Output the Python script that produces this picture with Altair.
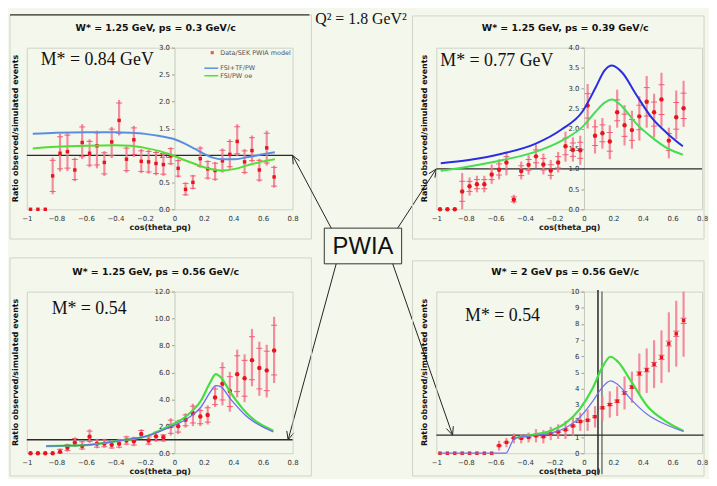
import math
import altair as alt
import pandas as pd

# ---------------- layout / style constants ----------------
W, H = 268, 163            # plot area of every panel
HS, VS = 145, 83           # spacing between plot areas (flush bounds)
BG = "#f4f7ec"
FRAME = "#cfd3c6"
SANS = "DejaVu Sans"
SERIF = "Liberation Serif"
RED = "#e8141e"
PINK = "#f27a90"

# ---------------- data ----------------
cos_bins = [-0.975, -0.925, -0.875, -0.825, -0.775, -0.725, -0.675, -0.625, -0.575,
            -0.525, -0.475, -0.425, -0.375, -0.325, -0.275, -0.225, -0.175, -0.125,
            -0.075, -0.025, 0.025, 0.075, 0.125, 0.175, 0.225, 0.275, 0.325, 0.375,
            0.425, 0.475, 0.525, 0.575, 0.625, 0.675]
x_ticks = [-1, -0.8, -0.6, -0.4, -0.2, 0, 0.2, 0.4, 0.6, 0.8]

# Panel A: W* = 1.25 GeV, ps = 0.3 GeV/c
a_ratio = [0, 0, 0, 0.62, 1.04, 1.07, 0.73, 1.24, 1.04, 1.18, 0.87, 1.25, 1.65, 0.93, 1.29,
           0.89, 0.88, 0.85, 0.83, 0.99, 0.76, 0.37, 0.50, 0.94, 0.75, 0.72, 0.90, 1.02,
           1.26, 0.88, 1.09, 0.73, 1.14, 0.60]
a_hi = [0, 0, 0, 0.96, 1.40, 1.43, 0.96, 1.58, 1.30, 1.46, 1.08, 1.53, 2.03, 1.17, 1.55,
        1.12, 1.11, 1.09, 1.06, 1.15, 0.93, 0.50, 0.64, 1.17, 0.91, 0.88, 1.13, 1.30,
        1.58, 1.12, 1.37, 0.94, 1.46, 0.81]
a_lo = [0, 0, 0, 0.28, 0.70, 0.71, 0.52, 0.93, 0.78, 0.76, 0.62, 0.95, 1.37, 0.68, 0.97,
        0.67, 0.66, 0.63, 0.62, 0.82, 0.59, 0.25, 0.37, 0.77, 0.55, 0.53, 0.68, 0.75,
        0.99, 0.65, 0.87, 0.51, 0.81, 0.40]
a_curve_x = [-0.96, -0.8, -0.6, -0.4, -0.3, -0.2, -0.1, 0.0, 0.07, 0.14, 0.2, 0.26, 0.32,
             0.41, 0.5, 0.6, 0.68]
a_blue = [1.40, 1.42, 1.43, 1.43, 1.42, 1.40, 1.36, 1.30, 1.22, 1.12, 1.03, 0.96, 0.93,
          0.93, 0.97, 1.02, 1.06]
a_green = [1.13, 1.16, 1.18, 1.19, 1.18, 1.14, 1.08, 0.99, 0.91, 0.84, 0.78, 0.74, 0.72,
           0.75, 0.82, 0.89, 0.93]

# Panel B: W* = 1.25 GeV, ps = 0.39 GeV/c
b_ratio = [0, 0, 0, 0.44, 0.57, 0.62, 0.62, 0.86, 0.98, 1.16, 0.24, 0.95, 1.10, 1.31, 1.11,
           0.96, 1.16, 1.56, 1.47, 1.46, 2.57, 1.82, 1.88, 1.68, 2.40, 2.08, 1.96, 2.30,
           2.66, 2.40, 2.72, 1.70, 2.28, 2.50]
b_hi = [0, 0, 0, 0.90, 0.79, 0.83, 0.83, 1.11, 1.24, 1.42, 0.36, 1.18, 1.34, 1.60, 1.38,
        1.22, 1.42, 1.92, 1.78, 1.82, 3.10, 2.22, 2.26, 2.08, 2.96, 2.58, 2.44, 2.80,
        3.30, 2.86, 3.38, 2.02, 2.94, 3.18]
b_lo = [0, 0, 0, 0.0, 0.34, 0.42, 0.42, 0.63, 0.74, 0.84, 0.14, 0.74, 0.86, 1.02, 0.86,
        0.74, 0.91, 1.18, 1.18, 1.10, 2.00, 1.38, 1.50, 1.24, 2.02, 1.58, 1.50, 1.70,
        2.02, 1.78, 2.04, 1.26, 1.74, 2.04]
b_curve_x = [-0.97, -0.78, -0.55, -0.33, -0.15, -0.01, 0.08, 0.14, 0.19, 0.26, 0.35, 0.46,
             0.57, 0.67]
b_blue = [1.14, 1.22, 1.38, 1.62, 1.98, 2.42, 3.02, 3.44, 3.56, 3.38, 2.86, 2.26, 1.86, 1.56]
b_green = [0.95, 1.06, 1.22, 1.42, 1.70, 2.04, 2.42, 2.64, 2.72, 2.54, 2.14, 1.78, 1.50, 1.35]

# Panel C: W* = 1.25 GeV, ps = 0.56 GeV/c
c_ratio = [0, 0, 0, 0, 0.10, 0.40, 0.78, 0.54, 1.23, 0.71, 0.71, 0.62, 0.71, 0.95, 0.88,
           1.42, 0.95, 1.25, 1.18, 2.01, 2.01, 2.49, 2.96, 2.72, 2.84, 4.14, 5.16, 4.62,
           5.87, 5.56, 6.91, 6.32, 6.15, 7.62]
c_hi = [0, 0, 0, 0, 0.35, 0.71, 1.18, 0.95, 1.78, 1.07, 1.07, 0.95, 1.07, 1.30, 1.23,
        1.78, 1.30, 1.66, 1.42, 2.60, 2.49, 2.96, 3.67, 3.31, 3.55, 4.97, 6.75, 6.04,
        7.69, 7.34, 9.23, 8.28, 8.05, 10.13]
c_lo = [0, 0, 0, 0, 0.0, 0.12, 0.47, 0.24, 0.76, 0.36, 0.40, 0.31, 0.36, 0.59, 0.52,
        1.07, 0.59, 0.83, 0.83, 1.30, 1.42, 1.89, 2.01, 2.01, 2.13, 3.43, 3.55, 3.08,
        4.14, 3.79, 4.97, 4.26, 4.14, 5.21]
c_curve_x = [-0.87, -0.58, -0.36, -0.18, -0.05, 0.09, 0.18, 0.24, 0.28, 0.31, 0.38, 0.49, 0.67]
c_blue = [0.52, 0.62, 0.95, 1.30, 1.85, 2.60, 3.43, 4.50, 5.02, 4.97, 4.02, 2.72, 1.59]
c_green = [0.52, 0.62, 0.95, 1.30, 1.94, 2.84, 3.91, 5.21, 5.87, 5.68, 4.50, 2.96, 1.66]

# Panel D: W* = 2 GeV ps = 0.56 GeV/c
d_ratio = [0, 0, 0, 0, 0, 0, 0, 0, 0.47, 0.67, 0.94, 0.92, 0.98, 1.08, 1.02, 1.22, 1.32,
           1.45, 1.69, 1.96, 2.04, 2.26, 2.81, 3.01, 3.22, 3.73, 4.09, 4.93, 5.15, 5.50,
           5.93, 6.78, 7.39, 8.21]
d_hi = [0, 0, 0, 0, 0, 0, 0, 0, 0.77, 0.94, 1.22, 1.18, 1.28, 1.49, 1.43, 1.63, 1.79,
        2.00, 2.30, 2.51, 2.71, 2.91, 3.52, 3.83, 4.13, 4.75, 5.05, 6.17, 6.48, 6.99,
        7.60, 8.72, 9.43, 10.0]
d_lo = [0, 0, 0, 0, 0, 0, 0, 0, 0.16, 0.37, 0.61, 0.61, 0.67, 0.67, 0.61, 0.81, 0.88,
        0.88, 1.08, 1.38, 1.38, 1.59, 2.00, 2.20, 2.30, 2.71, 3.12, 3.63, 3.73, 4.03,
        4.34, 5.01, 5.36, 5.97]
d_blue_x = [-0.98, -0.53, -0.47, -0.35, -0.23, -0.12, -0.03, 0.06, 0.12, 0.18, 0.23, 0.32,
            0.43, 0.55, 0.675]
d_blue = [0, 0, 0.92, 1.08, 1.24, 1.59, 2.20, 3.22, 4.03, 4.48, 4.24, 3.32, 2.40, 1.79, 1.34]
d_green_x = [-0.47, -0.35, -0.23, -0.12, -0.03, 0.06, 0.12, 0.18, 0.23, 0.32, 0.43, 0.55, 0.675]
d_green = [0.94, 1.14, 1.38, 1.89, 2.71, 4.03, 5.25, 5.97, 5.66, 4.44, 2.91, 2.00, 1.38]
d_cut_x = [0.095, 0.122]
d_cut_top = [10.1, 10.0]
d_cut_bottom = [-1.3, -1.3]

ONE = pd.DataFrame({"k": [0]})


def val(v):
    return alt.value(v)


def rect(x1, y1, x2, y2, stroke=FRAME, fill=None, sw=1):
    kw = dict(stroke=stroke, strokeWidth=sw)
    if fill is None:
        kw["fillOpacity"] = 0
        kw["fill"] = BG
    else:
        kw["fill"] = fill
    return alt.Chart(ONE).mark_rect(**kw).encode(x=val(x1), x2=val(x2), y=val(y1), y2=val(y2))


def seg(x1, y1, x2, y2, color="#222", sw=1):
    return alt.Chart(ONE).mark_rule(color=color, strokeWidth=sw).encode(
        x=val(x1), x2=val(x2), y=val(y1), y2=val(y2))


def label(text, x, y, size, font=SANS, weight="normal", align="left", baseline="alphabetic",
          color="#111", angle=0):
    kw = dict(text=text, fontSize=size, font=font, fontWeight=weight, align=align,
              baseline=baseline, color=color)
    if angle:
        kw["angle"] = angle
    return alt.Chart(ONE).mark_text(**kw).encode(x=val(x), y=val(y))


def panel(title, mstar, mpos, ratio, lo, hi, cap_frac, ymax, yvals, yfmt,
          blue_x, blue, green_x, green, blue_color, blue_w, green_color, green_w,
          frame, refline, point_shape, point_size, extra=(), cuts=None):
    xs = alt.Scale(domain=[-1, 0.8], nice=False, zero=False, padding=0)
    ys = alt.Scale(domain=[0, ymax], nice=False, zero=False, padding=0)
    x0 = W * 1 / 1.8
    xaxis = alt.Axis(values=x_ticks, format="~g", labelFont=SANS, labelFontSize=7,
                     labelColor="#333", domain=False, ticks=False, grid=False,
                     labelFlush=False, labelOverlap=False,
                     labelPadding=5, title="cos(theta_pq)", titleFont=SANS,
                     titleFontSize=8, titleFontWeight="bold", titleColor="#222",
                     titlePadding=2)
    yaxis = alt.Axis(values=yvals, format=yfmt, orient="left", offset=-x0, labelFont=SANS,
                     labelFontSize=7, labelColor="#333", domainColor="#c4c8bc",
                     labelFlush=False, labelOverlap=False,
                     tickColor="#9a9e94", tickSize=3, grid=False, title=None,
                     labelPadding=2)
    X = lambda f: alt.X(f, type="quantitative", scale=xs, axis=xaxis)
    Y = lambda f: alt.Y(f, type="quantitative", scale=ys, axis=yaxis)

    pts = pd.DataFrame({"cos": cos_bins, "ratio": ratio, "lo": lo, "hi": hi})
    bars = pts[pts["hi"] > pts["lo"]].copy()
    caps = pd.concat([
        pd.DataFrame({"cos": bars["cos"], "ratio": bars["ratio"] + cap_frac * (bars["hi"] - bars["ratio"])}),
        pd.DataFrame({"cos": bars["cos"], "ratio": bars["ratio"] - cap_frac * (bars["ratio"] - bars["lo"])}),
    ])
    ref = pd.DataFrame({"cos": [refline[0]], "cos2": [refline[1]], "ratio": [refline[2]]})
    bl = pd.DataFrame({"cos": blue_x, "ratio": blue})
    gr = pd.DataFrame({"cos": green_x, "ratio": green})

    layers = [rect(*frame)]
    if cuts is not None:
        cx, ctop, cbot = cuts
        for i, w in enumerate([1.6, 1.0]):
            cdf = pd.DataFrame({"cos": [cx[i]], "ratio": [ctop[i]], "bot": [cbot[i]]})
            layers.append(alt.Chart(cdf).mark_rule(color="#333", strokeWidth=w, clip=False)
                          .encode(x=X("cos"), y=Y("ratio"), y2="bot"))
    layers += [
        alt.Chart(ref).mark_rule(color="#2a2a2a", strokeWidth=1.3, clip=False).encode(
            x=X("cos"), x2="cos2", y=Y("ratio")),
        alt.Chart(bars).mark_rule(color=PINK, strokeWidth=2.2, opacity=0.85).encode(
            x=X("cos"), y=Y("lo"), y2="hi"),
        alt.Chart(caps).mark_tick(orient="horizontal", color="#f0506e", size=6, thickness=1,
                                  opacity=0.9).encode(x=X("cos"), y=Y("ratio")),
        alt.Chart(pts).mark_point(shape=point_shape, filled=True, color=RED, size=point_size,
                                  opacity=1).encode(x=X("cos"), y=Y("ratio")),
        alt.Chart(gr).mark_line(color=green_color, strokeWidth=green_w,
                                interpolate="monotone").encode(x=X("cos"), y=Y("ratio")),
        alt.Chart(bl).mark_line(color=blue_color, strokeWidth=blue_w,
                                interpolate="monotone").encode(x=X("cos"), y=Y("ratio")),
        label(mstar, mpos[0], mpos[1], 18, font=SERIF, color="#111"),
        label(title, W / 2 - 4, -20, 9.5, weight="bold", align="center", baseline="middle"),
        label("Ratio observed/simulated events", -11, H / 2, 8, weight="bold",
              align="center", baseline="middle", angle=270),
    ]
    layers += list(extra)
    return alt.layer(*layers).properties(width=W, height=H)


# ---------- decorations positioned relative to panel A's plot origin ----------
def arrow(tail, tip, color="#222"):
    (x1, y1), (x2, y2) = tail, tip
    ang = math.atan2(y1 - y2, x1 - x2)
    L, spread = 9, math.radians(24)
    parts = [seg(x1, y1, x2, y2, color, 1)]
    for s in (-spread, spread):
        parts.append(seg(x2, y2, x2 + L * math.cos(ang + s), y2 + L * math.sin(ang + s), color, 1))
    return parts


colB, rowC = W + HS, H + VS
tipA = (W * 1.8 / 1.8, H * (1 - 1 / 3))
tipB = (colB, H * (1 - 1 / 4))
tipC = (W * 1.77 / 1.8, rowC + H * (1 - 1 / 12))
tipD = (colB + W * 0.11 / 1.8, rowC + H * (1 - 1.12 / 10))
box = (300, 182, 378, 218)

extraA = [
    seg(-17, -33, 285, -33, "#333", 1.2),
    label("Q\u00b2 = 1.8 GeV\u00b2", 337, -29, 16, font=SERIF, align="center",
          baseline="middle", color="#111"),
    alt.Chart(ONE).mark_point(shape="square", filled=True, color=RED, size=10).encode(
        x=val(187), y=val(5)),
    label("Data/SEK PWIA model", 195, 7, 6.5, color="#555"),
    seg(179, 20.7, 193, 20.7, "#5a8fe0", 1.5),
    label("FSI+TF/PW", 195, 23, 6.5, color="#555"),
    seg(179, 28.3, 193, 28.3, "#55dd33", 1.5),
    label("FSI/PW oe", 195, 30.5, 6.5, color="#555"),
    rect(box[0], box[1], box[2], box[3], stroke="#333", fill=BG),
    label("PWIA", (box[0] + box[2]) / 2, (box[1] + box[3]) / 2 + 1, 24,
          font="Liberation Sans", align="center", baseline="middle", color="#111"),
]
extraA += arrow((307, box[1]), tipA)
extraA += arrow((374, box[1]), tipB)
extraA += arrow((312, box[3]), tipC)
extraA += arrow((369, box[3]), tipD)

pA = panel("W* = 1.25 GeV, ps = 0.3 GeV/c", "M* = 0.84 GeV", (14, 17),
           a_ratio, a_lo, a_hi, 0.85, 3, [0, 0.5, 1, 1.5, 2, 2.5, 3], ".1f",
           a_curve_x, a_blue, a_curve_x, a_green, "#5a8fe0", 2, "#55dd33", 2,
           (-17, -33, 287, 193), (-1, 0.8, 1.0), "square", 12, extraA)
pB = panel("W* = 1.25 GeV, ps = 0.39 GeV/c", "M* = 0.77 GeV", (4, 18),
           b_ratio, b_lo, b_hi, 0.55, 4, [0, 0.5, 1, 1.5, 2, 2.5, 3, 3.5, 4], ".1f",
           b_curve_x, b_blue, b_curve_x, b_green, "#2a2ee0", 2, "#44dd55", 2,
           (-24, -32, 270, 193), (-1, 0.8, 1.0), "circle", 20)
pC = panel("W* = 1.25 GeV, ps = 0.56 GeV/c", "M* = 0.54", (25, 23),
           c_ratio, c_lo, c_hi, 0.75, 12, [0, 2, 4, 6, 8, 10, 12], ".1f",
           c_curve_x, c_blue, c_curve_x, c_green, "#6a6af0", 1.3, "#44dd44", 2.2,
           (-17, -34, 287, 186), (-1, 0.8, 1.0), "circle", 20)
pD = panel("W* = 2 GeV ps = 0.56 GeV/c", "M* = 0.54", (29, 30),
           d_ratio, d_lo, d_hi, 0.08, 10, list(range(0, 11)), "d",
           d_blue_x, d_blue, d_green_x, d_green, "#7070ee", 1.2, "#44dd44", 2.2,
           (-24, -31, 270, 186), (-1, 0.81, 1.12), "square", 12,
           cuts=(d_cut_x, d_cut_top, d_cut_bottom))

chart = alt.concat(pA, pB, pC, pD, columns=2, spacing={"row": VS, "column": HS},
                   bounds="flush").properties(
    padding={"left": 0, "top": 0, "right": 0, "bottom": 0}
).configure(background=BG).configure_view(stroke=FRAME, strokeWidth=1)

chart.save("out.html", embed_options={"renderer": "svg", "actions": False})
